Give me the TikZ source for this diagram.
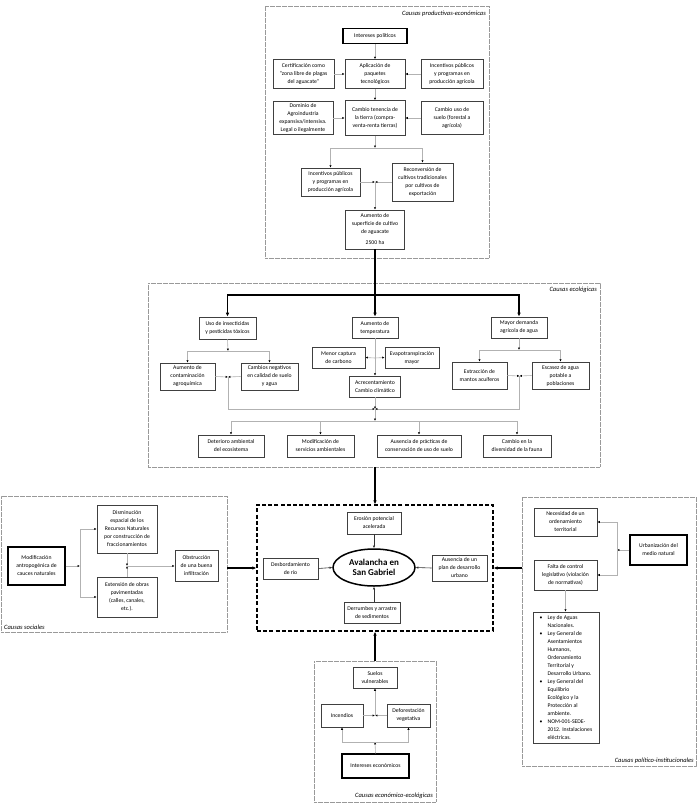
\documentclass[tikz,border=0pt]{standalone}
\usepackage{fontspec}
\setmainfont{Carlito}
\usetikzlibrary{arrows.meta,shapes.geometric}
\begin{document}
\begin{tikzpicture}[x=1pt,y=-1pt,
  fs/.style={font=\fontsize{5.7}{8}\selectfont},
  wh/.style 2 args={minimum width=#1pt,minimum height=#2pt},
  box/.style={draw=black!75, line width=0.7pt, fill=white, align=center, inner sep=0pt, fs},
  boldbox/.style={box, draw=black, line width=1.4pt},
  blk/.style={draw=black!40, line width=0.6pt, dash pattern=on 0.6pt off 0.6pt, inner sep=0pt},
  con/.style={draw=black!30, line width=0.6pt, -{Latex[length=2.4pt,width=2.2pt,color=black]}},
  dcon/.style={draw=black!80, line width=0.6pt, -{Latex[length=2.6pt,width=2.4pt]}},
  thk/.style={draw=black, line width=1.4pt, -{Latex[length=4pt,width=3.6pt]}},
  thl/.style={draw=black, line width=1.4pt},
  lbl/.style={font=\fontsize{6.5}{7}\selectfont\itshape, inner sep=1pt}
]
\useasboundingbox[fill=white] (0,0) rectangle (697,809);

% ---------- blocks ----------
\node[blk, wh={224}{252}] (bprod) at (377,132) {};
\node[blk, wh={452}{184}] (beco) at (374,375) {};
\node[blk, wh={226}{136}] (bsoc) at (114,564) {};
\node[blk, wh={174}{269}] (bpol) at (609,631.5) {};
\node[blk, wh={122}{141}] (beec) at (375,731.5) {};
\node[draw=black, line width=1.3pt, dash pattern=on 4pt off 2.2pt, inner sep=0pt, wh={236}{126}] (cbox) at (375,568) {};

\node[lbl, anchor=east] (lprod) at (487,14) {Causas productivas-económicas};
\node[lbl, anchor=east] (leco) at (598,290) {Causas ecológicas};
\node[lbl, anchor=west] (lsoc) at (3,627) {Causas sociales};
\node[lbl, anchor=east] (lpol) at (695,761) {Causas político-institucionales};
\node[lbl, anchor=east] (leec) at (434,796) {Causas económico-ecológicas};

% ---------- productive block ----------
\node[boldbox, wh={64}{15}] (ip) at (375,36) {Intereses políticos};
\node[box, wh={61}{29}] (cert) at (303.5,74) {Certificación como\\“zona libre de plagas\\del aguacate”};
\node[box, wh={60}{29}] (apl) at (375,74) {Aplicación de\\paquetes\\tecnológicos};
\node[box, wh={62}{29}] (inc1) at (452,74) {Incentivos públicos\\y programas en\\producción agrícola};
\node[box, wh={60}{33}] (dom) at (303,118) {Dominio de\\Agroindustria\\expansiva/intensiva.\\Legal o ilegalmente};
\node[box, wh={60}{35}] (ct) at (375,118) {Cambio tenencia de\\la tierra (compra-\\venta-renta tierras)};
\node[box, wh={62}{33}] (cu) at (452,118) {Cambio uso de\\suelo (forestal a\\agrícola)};
\node[box, wh={59}{28}] (inc2) at (330.5,182) {Incentivos públicos\\y programas en\\producción agrícola};
\node[box, wh={61}{38}] (rec) at (422.5,182) {Reconversión de\\cultivos tradicionales\\por cultivos de\\exportación};
\node[box, wh={59}{39}] (aum) at (375,229.5) {Aumento de\\superficie de cultivo\\de aguacate\\[3pt]2500 ha};

\coordinate (j1) at (375,148);
\coordinate (j2) at (375,182);
\draw[con] (ip.south) -- (apl.north);
\draw[con] (cert.east) -- (apl.west);
\draw[con] (inc1.west) -- (apl.east);
\draw[con] (apl.south) -- (ct.north);
\draw[con] (dom.east) -- (ct.west);
\draw[con] (cu.west) -- (ct.east);
\draw[con] (ct.south) -- (j1);
\draw[con] (j1) -| (inc2.north);
\draw[con] (j1) -| (rec.north);
\draw[con] (inc2.east) -- (j2);
\draw[con] (rec.west) -- (j2);
\draw[con] (j2) -- (aum.north);

% ---------- ecological block ----------
\node[box, wh={57}{22}] (uso) at (227.5,328) {Uso de insecticidas\\y pesticidas tóxicos};
\node[box, wh={46}{21}] (temp) at (375,327.5) {Aumento de\\temperatura};
\node[box, wh={56}{21}] (may) at (519,327.5) {Mayor demanda\\agrícola de agua};
\node[box, wh={55}{27}] (aco) at (187.5,376.5) {Aumento de\\contaminación\\agroquímica};
\node[box, wh={57}{27}] (cneg) at (269.5,376.5) {Cambios negativos\\en calidad de suelo\\y agua};
\node[box, wh={53}{21}] (men) at (338.5,357.5) {Menor captura\\de carbono};
\node[box, wh={54}{21}] (eva) at (412,357.5) {Evapotranspiración\\mayor};
\node[box, wh={51}{21}] (acr) at (375,386.5) {Acrecentamiento\\Cambio climático};
\node[box, wh={55}{27}] (ext) at (479.5,375.5) {Extracción de\\mantos acuíferos};
\node[box, wh={57}{27}] (esc) at (560.5,375.5) {Escasez de agua\\potable a\\poblaciones};
\node[box, wh={66}{22}] (det) at (231,446) {Deterioro ambiental\\del ecosistema};
\node[box, wh={67}{22}] (modi) at (320.5,446) {Modificación de\\servicios ambientales};
\node[box, wh={84}{22}] (ausp) at (419,446) {Ausencia de prácticas de\\conservación de uso de suelo};
\node[box, wh={68}{22}] (camb) at (517,446) {Cambio en la\\diversidad de la fauna};

\coordinate (ecoj) at (375,295);
\coordinate (j3) at (228,351);
\coordinate (j4) at (228,377);
\coordinate (j5) at (375,358);
\coordinate (j6) at (519,350);
\coordinate (j7) at (519.5,376);
\coordinate (jb) at (375,409);
\coordinate (jc) at (375,421);

\draw[thl] (aum.south) -- (ecoj);
\draw[thk] (ecoj) -| (uso.north);
\draw[thk] (ecoj) -| (may.north);
\draw[thk] (ecoj) -- (temp.north);

\draw[con] (uso.south) -- (j3);
\draw[con] (j3) -| (aco.north);
\draw[con] (j3) -| (cneg.north);
\draw[con] (aco.east) -- (j4);
\draw[con] (cneg.west) -- (j4);
\draw[con] (j4) |- (jb);

\draw[con] (temp.south) -- (acr.north);
\draw[con] (j5) -- (men.east);
\draw[con] (j5) -- (eva.west);
\draw[con] (acr.south) -- (jb);

\draw[con] (may.south) -- (j6);
\draw[con] (j6) -| (ext.north);
\draw[con] (j6) -| (esc.north);
\draw[con] (ext.east) -- (j7);
\draw[con] (esc.west) -- (j7);
\draw[con] (j7) |- (jb);

\draw[con] (jb) -- (jc);
\draw[con] (jc) -| (det.north);
\draw[con] (jc) -| (modi.north);
\draw[con] (jc) -| (ausp.north);
\draw[con] (jc) -| (camb.north);

% ---------- centre ----------
\node[box, wh={54}{22}] (ero) at (374,523) {Erosión potencial\\acelerada};
\node[ellipse, draw=black, line width=1.5pt, fill=white, wh={82}{37}, inner sep=0pt, align=center, font=\fontsize{9}{10.5}\selectfont\bfseries] (ava) at (374,567.5) {Avalancha en\\San Gabriel};
\node[box, wh={55}{21}] (des) at (290.5,568.5) {Desbordamiento\\de río};
\node[box, wh={55}{26}] (ausu) at (459.5,568) {Ausencia de un\\plan de desarrollo\\urbano};
\node[box, wh={56}{21}] (der) at (372,612.5) {Derrumbes y arrastre\\de sedimentos};

\draw[dcon] (ero.south) -- (ava.north);
\draw[dcon] (des.east) -- (ava.west);
\draw[dcon] (ausu.west) -- (ava.east);
\draw[dcon] (der.north -| ava.south) -- (ava.south);

\draw[thk] (cbox.north |- beco.south) -- (cbox.north);
\draw[thk] (cbox.south |- beec.north) -- (cbox.south);
\draw[thk] (bsoc.east |- cbox.west) -- (cbox.west);
\draw[thk] (bpol.west |- cbox.east) -- (cbox.east);

% ---------- social ----------
\node[boldbox, wh={57}{38}] (modan) at (36.5,566) {Modificación\\antropogénica de\\cauces naturales};
\node[box, wh={60}{48}] (dis) at (127,529) {Disminución\\espacial de los\\Recursos Naturales\\por construcción de\\fraccionamientos};
\node[box, wh={60}{40}] (ext2) at (127,597) {Extensión de obras\\pavimentadas\\(calles, canales,\\etc.).};
\node[box, wh={43}{31}] (obs) at (196.5,566) {Obstrucción\\de una buena\\infiltración};
\coordinate (js) at (80,566);
\coordinate (jt) at (127,566);
\draw[con] (modan.east) -- (js);
\draw[con] (js) |- (dis.west);
\draw[con] (js) |- (ext2.west);
\draw[con] (dis.south) -- (jt);
\draw[con] (ext2.north) -- (jt);
\draw[con] (jt) -- (obs.west);

% ---------- political ----------
\node[box, wh={63}{28}] (nec) at (565.5,522) {Necesidad de un\\ordenamiento\\territorial};
\node[boldbox, wh={57}{30}] (urb) at (658.5,550) {Urbanización del\\medio natural};
\node[box, wh={63}{30}] (fal) at (565.5,575) {Falta de control\\legislativo (violación\\de normativas)};
\node[box, wh={66}{131}] (ley) at (566,677.5) {\begin{tabular}{@{}l@{\hspace{5pt}}l@{}}
•&Ley de Aguas\\ &Nacionales.\\
•&Ley General de\\ &Asentamientos\\ &Humanos,\\ &Ordenamiento\\ &Territorial y\\ &Desarrollo Urbano.\\
•&Ley General del\\ &Equilibrio\\ &Ecológico y la\\ &Protección al\\ &ambiente.\\
•&NOM-001-SEDE-\\ &2012. Instalaciones\\ &eléctricas.
\end{tabular}};
\coordinate (jr) at (617,550);
\draw[con] (urb.west) -- (jr);
\draw[con] (jr) |- (nec.east);
\draw[con] (jr) |- (fal.east);
\draw[con] (fal.south) -- (ley.north -| fal.south);

% ---------- economic-ecological ----------
\node[box, wh={44}{21}] (sue) at (375,677.5) {Suelos\\vulnerables};
\node[box, wh={42}{23}] (inc) at (342,715.5) {Incendios};
\node[box, wh={43}{23}] (def) at (408.5,715.5) {Deforestación\\vegetativa};
\node[boldbox, wh={67}{24}] (ie) at (375.5,766) {Intereses económicos};
\coordinate (jd) at (375,742);
\coordinate (je) at (375,715.5);
\draw[con] (ie.north) -- (jd);
\draw[con] (jd) -| (inc.south);
\draw[con] (jd) -| (def.south);
\draw[con] (inc.east) -- (je);
\draw[con] (def.west) -- (je);
\draw[con] (je) -- (sue.south);
\end{tikzpicture}
\end{document}
